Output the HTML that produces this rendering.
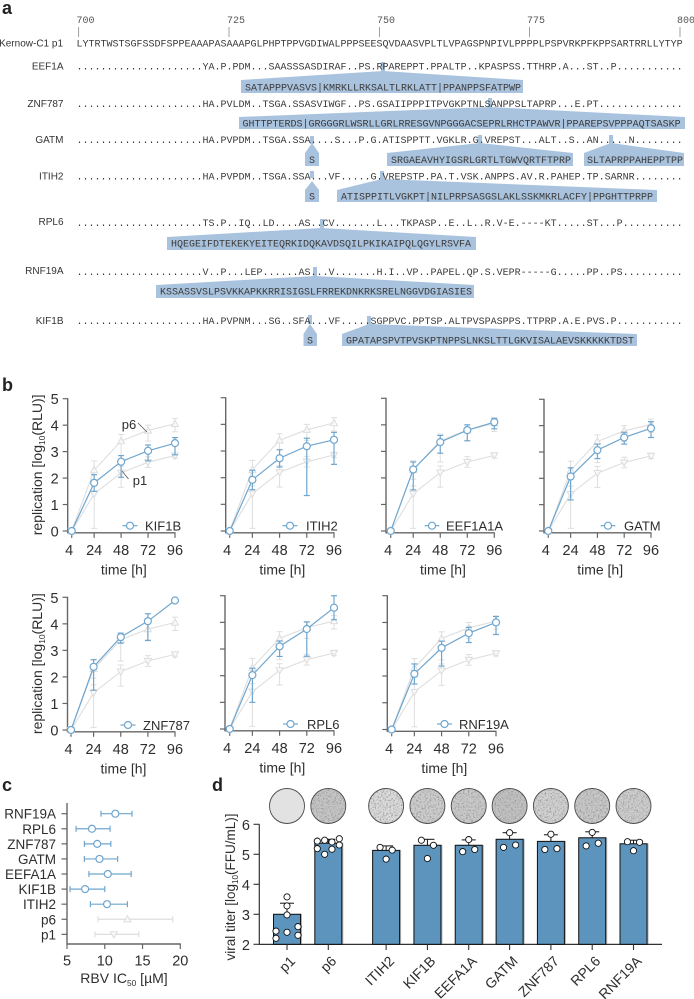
<!DOCTYPE html>
<html lang="en">
<head>
<meta charset="utf-8">
<title>Figure</title>
<style>
html,body{margin:0;padding:0;background:#fff;}
body{width:694px;height:999px;overflow:hidden;}
svg{display:block;filter:blur(0.35px);}
text{font-family:"Liberation Sans",Arial,sans-serif;fill:#2e2e2e;}
.seq{font-family:"Liberation Mono",monospace;font-size:10px;fill:#3a3a3a;white-space:pre;}
.num{font-family:"Liberation Mono",monospace;font-size:10px;fill:#555;}
.lab{font-size:10px;text-anchor:end;fill:#333;}
.band{fill:#a9c3de;}
.panel{font-size:18px;font-weight:bold;fill:#222;}
</style>
</head>
<body>
<svg id="fig" xmlns="http://www.w3.org/2000/svg" width="694" height="999" viewBox="0 0 694 999">
<defs>
<filter id="speckle" x="0" y="0" width="100%" height="100%">
<feTurbulence type="fractalNoise" baseFrequency="0.6" numOctaves="2" seed="4" result="n"/>
<feColorMatrix in="n" type="matrix" values="0 0 0 0 0.3  0 0 0 0 0.3  0 0 0 0 0.3  1.9 1.9 0 0 -1.75" result="d"/>
<feComposite in="d" in2="SourceGraphic" operator="in" result="c"/>
<feMerge><feMergeNode in="SourceGraphic"/><feMergeNode in="c"/></feMerge>
</filter>
</defs>

<g>
<text class="panel" x="2" y="14">a</text>

<g stroke="#777" stroke-width="0.7">
<line x1="78.7" x2="78.7" y1="27" y2="37"/><line x1="229" x2="229" y1="27" y2="37"/><line x1="379.5" x2="379.5" y1="27" y2="37"/><line x1="529.5" x2="529.5" y1="27" y2="37"/><line x1="680" x2="680" y1="27" y2="37"/>
</g>
<text class="num" x="76.5" y="23">700</text>
<text class="num" x="227" y="23">725</text>
<text class="num" x="377" y="23">750</text>
<text class="num" x="527" y="23">775</text>
<text class="num" x="677" y="23">800</text>

<g class="band">
<rect x="381" y="62" width="4" height="10"/><polygon points="241,80 383,71 523,80 523,93 241,93"/>
<rect x="488" y="98" width="4" height="10"/><polygon points="239,117 490,107 685,117 685,129 239,129"/>
<rect x="310" y="136" width="4" height="8"/><polygon points="305,153 312,143 319,153 319,166 305,166"/>
<rect x="478" y="135" width="4" height="9"/><polygon points="387,153 480,143 573,153 573,166 387,166"/>
<rect x="609" y="135" width="4" height="9"/><polygon points="584,153 611,143 684,153 684,166 584,166"/>
<rect x="310" y="171" width="4" height="7"/><polygon points="305,190 312,181 319,190 319,202 305,202"/>
<rect x="380" y="171" width="4" height="9"/><polygon points="337,190 382,179 657,190 657,202 337,202"/>
<rect x="320" y="219" width="4" height="10"/><polygon points="167,237 322,228 476,237 476,250 167,250"/>
<rect x="313" y="267" width="4" height="10"/><polygon points="156,285 315,276 474,285 474,298 156,298"/>
<rect x="308" y="315" width="4" height="9"/><polygon points="303.5,334 310,324 317,334 317,346 303.5,346"/>
<rect x="367" y="316" width="4" height="9"/><polygon points="342,334 369,324 637,334 637,346 342,346"/>
</g>

<text class="lab" x="63" y="46.5">Kernow-C1 p1</text>
<text class="seq" x="76.5" y="46.5">LYTRTWSTSGFSSDFSPPEAAAPASAAAPGLPHPTPPVGDIWALPPPSEESQVDAASVPLTLVPAGSPNPIVLPPPPLPSPVRKPFKPPSARTRRLLYTYP</text>

<text class="lab" x="63.5" y="69.5">EEF1A</text>
<text class="seq" x="76.5" y="69.5">.....................YA.P.PDM...SAASSSASDIRAF..PS.RPAREPPT.PPALTP..KPASPSS.TTHRP.A...ST..P...........</text>
<text class="seq" x="245" y="90.5">SATAPPPVASVS|KMRKLLRKSALTLRKLATT|PPANPPSFATPWP</text>

<text class="lab" x="63.5" y="107">ZNF787</text>
<text class="seq" x="76.5" y="107">.....................HA.PVLDM..TSGA.SSASVIWGF..PS.GSAIIPPPITPVGKPTNLSANPPSLTAPRP...E.PT..............</text>
<text class="seq" x="242.5" y="126.5">GHTTPTERDS|GRGGGRLWSRLLGRLRRESGVNPGGGACSEPRLRHCTPAWVR|PPAREPSVPPPAQTSASKP</text>

<text class="lab" x="63.5" y="143">GATM</text>
<text class="seq" x="76.5" y="143">.....................HA.PVPDM..TSGA.SSA....S...P.G.ATISPPTT.VGKLR.G.VREPST...ALT..S..AN.....N........</text>
<text class="seq" x="309" y="163">S</text>
<text class="seq" x="391" y="163">SRGAEAVHYIGSRLGRTLTGWVQRTFTPRP</text>
<text class="seq" x="587" y="163">SLTAPRPPAHEPPTPP</text>

<text class="lab" x="63.5" y="179.5">ITIH2</text>
<text class="seq" x="76.5" y="179.5">.....................HA.PVPDM..TSGA.SSA...VF.....G.VREPSTP.PA.T.VSK.ANPPS.AV.R.PAHEP.TP.SARNR........</text>
<text class="seq" x="309" y="199.5">S</text>
<text class="seq" x="341" y="199.5">ATISPPITLVGKPT|NILPRPSASGSLAKLSSKMKRLACFY|PPGHTTPRPP</text>

<text class="lab" x="63.5" y="225">RPL6</text>
<text class="seq" x="76.5" y="226">.....................TS.P..IQ..LD....AS..CV.......L...TKPASP..E..L..R.V-E.----KT.....ST...P..........</text>
<text class="seq" x="171" y="246.5">HQEGEIFDTEKEKYEITEQRKIDQKAVDSQILPKIKAIPQLQGYLRSVFA</text>

<text class="lab" x="63.5" y="274">RNF19A</text>
<text class="seq" x="76.5" y="275">.....................V..P...LEP......AS...V.......H.I..VP..PAPEL.QP.S.VEPR-----G.....PP..PS..........</text>
<text class="seq" x="160" y="294.5">KSSASSVSLPSVKKAPKKRRISIGSLFRREKDNKRKSRELNGGVDGIASIES</text>

<text class="lab" x="63.5" y="324">KIF1B</text>
<text class="seq" x="76.5" y="324">.....................HA.PVPNM...SG..SFA...VF.....SGPPVC.PPTSP.ALTPVSPASPPS.TTPRP.A.E.PVS.P...........</text>
<text class="seq" x="307" y="343.5">S</text>
<text class="seq" x="346" y="343.5">GPATAPSPVTPVSKPTNPPSLNKSLTTLGKVISALAEVSKKKKKTDST</text>
</g>

<text class="panel" x="2" y="391">b</text>
<text class="panel" x="2" y="791">c</text>
<text class="panel" x="212" y="791">d</text>

<g id="panelB"></g>
<g id="panelC"></g>
<g id="panelD"></g>
</svg>

<script>
// ---- panel b data ----
const hours = [4, 24, 48, 72, 96];
const replicationTicks = [0, 1, 2, 3, 4, 5];
const p6Mean = [0, 2.3, 3.4, 3.8, 4.05];
const p6Low = [0, 1.95, 2.6, 3.4, 3.75];
const p6High = [0, 2.65, 3.65, 4.0, 4.25];
const p1Mean = [0, 1.4, 2.2, 2.6, 2.85];
const p1Low = [0, 0.1, 1.65, 2.4, 2.75];
const p1High = [0, 1.7, 2.45, 2.8, 2.92];
const kif1bMean = [0, 1.82, 2.62, 3.03, 3.32];
const kif1bLow = [0, 1.5, 2.03, 2.65, 2.88];
const kif1bHigh = [0, 2.13, 2.85, 3.25, 3.53];
const itih2Mean = [0, 1.92, 2.73, 3.18, 3.42];
const itih2Low = [0, 1.55, 2.4, 1.33, 2.5];
const itih2High = [0, 2.28, 3.05, 3.48, 3.7];
const eef1a1aMean = [0, 2.32, 3.35, 3.8, 4.1];
const eef1a1aLow = [0, 1.55, 2.93, 3.4, 3.85];
const eef1a1aHigh = [0, 2.6, 3.6, 4.0, 4.25];
const gatmMean = [0, 2.07, 3.07, 3.55, 3.9];
const gatmLow = [0, 1.18, 2.75, 3.3, 3.55];
const gatmHigh = [0, 2.4, 3.3, 3.75, 4.15];
const znf787Mean = [0, 2.38, 3.5, 4.1, 4.88];
const znf787Low = [0, 1.5, 3.27, 3.37, 4.85];
const znf787High = [0, 2.65, 3.65, 4.38, 4.92];
const rpl6Mean = [0, 2.02, 3.1, 3.75, 4.55];
const rpl6Low = [0, 1.0, 2.72, 2.73, 4.1];
const rpl6High = [0, 2.28, 3.3, 4.02, 5.0];
const rnf19aMean = [0, 2.08, 3.05, 3.6, 4.0];
const rnf19aLow = [0, 1.7, 2.37, 3.25, 3.55];
const rnf19aHigh = [0, 2.45, 3.3, 3.82, 4.22];

// ---- panel c data ----
const ic50Names = ['RNF19A', 'RPL6', 'ZNF787', 'GATM', 'EEFA1A', 'KIF1B', 'ITIH2', 'p6', 'p1'];
const ic50Mean = [11.4, 8.3, 9.0, 9.3, 10.4, 7.4, 10.3, 13.0, 11.2];
const ic50Low = [9.5, 6.2, 7.3, 7.3, 7.9, 5.4, 8.1, 9.1, 8.7];
const ic50High = [13.6, 10.7, 10.8, 11.7, 13.5, 10.0, 13.0, 19.0, 14.5];
const ic50Ticks = [5, 10, 15, 20];

// ---- panel d data ----
const titerNames = ['p1', 'p6', 'ITIH2', 'KIF1B', 'EEFA1A', 'GATM', 'ZNF787', 'RPL6', 'RNF19A'];
const titerMean = [3.0, 5.37, 5.13, 5.3, 5.3, 5.5, 5.43, 5.55, 5.35];
const titerUpper = [3.37, 5.5, 5.28, 5.5, 5.48, 5.72, 5.65, 5.75, 5.47];
const titerTicks = [2, 3, 4, 5, 6];
const titerP1Points = [3.58, 3.28, 2.98, 2.44, 2.4, 2.59, 2.3, 2.2];
const titerP6Points = [5.44, 5.47, 5.41, 5.52, 5.19, 5.0, 5.17, 5.31];
const titerItih2Points = [5.23, 5.14, 4.84];
const titerKif1bPoints = [5.47, 5.3, 4.86];
const titerEefa1aPoints = [5.49, 5.09, 5.16];
const titerGatmPoints = [5.72, 5.23, 5.31];
const titerZnf787Points = [5.67, 5.16, 5.19];
const titerRpl6Points = [5.73, 5.28, 5.37];
const titerRnf19aPoints = [5.42, 5.4, 5.12];

const SVGNS = 'http://www.w3.org/2000/svg';
const BLUE = '#6fa6cf', GREY = '#dedede', AXIS = '#666';

function mk(parent, tag, attrs, name) {
  const el = document.createElementNS(SVGNS, tag);
  for (const k in attrs) el.setAttribute(k, attrs[k]);
  
  
  parent.appendChild(el);
  return el;
}
function label(parent, x, y, str, size, anchor, name, transform) {
  const attrs = { x: x, y: y, 'font-size': size, 'text-anchor': anchor };
  if (transform) attrs.transform = transform;
  const t = mk(parent, 'text', attrs, name);
  t.textContent = str;
  return t;
}
function subLabel(parent, x, y, a, sub, b, size, name, transform) {
  const attrs = { x: x, y: y, 'font-size': size, 'text-anchor': 'middle' };
  if (transform) attrs.transform = transform;
  const t = mk(parent, 'text', attrs, name);
  const s1 = document.createElementNS(SVGNS, 'tspan');
  s1.textContent = a;
  const s2 = document.createElementNS(SVGNS, 'tspan');
  s2.setAttribute('font-size', size * 0.6);
  s2.setAttribute('dy', 3);
  s2.textContent = sub;
  const s3 = document.createElementNS(SVGNS, 'tspan');
  s3.setAttribute('dy', -3);
  s3.textContent = b;
  t.appendChild(s1); t.appendChild(s2); t.appendChild(s3);
  return t;
}
function line(parent, x1, y1, x2, y2, color, w, name) {
  return mk(parent, 'line', { x1: x1, y1: y1, x2: x2, y2: y2, stroke: color, 'stroke-width': w }, name);
}
function errorBar(parent, x, lo, hi, color, w, name) {
  const g = mk(parent, 'g', {}, name);
  line(g, x, lo, x, hi, color, w, 'error-stem');
  line(g, x - 3, lo, x + 3, lo, color, w, 'error-cap-low');
  line(g, x - 3, hi, x + 3, hi, color, w, 'error-cap-high');
}
function triangle(parent, x, y, up, name) {
  const d = up ? -1 : 1;
  const pts = [[x - 3.4, y - d * 2.6], [x + 3.4, y - d * 2.6], [x, y + d * 3.6]].map(function (p) { return p.join(','); }).join(' ');
  return mk(parent, 'polygon', { points: pts, fill: '#fff', 'fill-opacity': 0.7, stroke: GREY, 'stroke-width': 1.1 }, name);
}

// ---- panel b ----
const lineCharts = [
  { name: 'KIF1B', mean: kif1bMean, low: kif1bLow, high: kif1bHigh, ax: 67.7, x4: 71.7, x96: 175, y0: 531, y5: 398.7, lx: 130, tx: 145, ly: 525.7, row: 0, first: true },
  { name: 'ITIH2', mean: itih2Mean, low: itih2Low, high: itih2High, ax: 225.7, x4: 229.7, x96: 334, y0: 531, y5: 397.7, lx: 290, tx: 306, ly: 525.7, row: 0 },
  { name: 'EEF1A1A', mean: eef1a1aMean, low: eef1a1aLow, high: eef1a1aHigh, ax: 386, x4: 390.7, x96: 494.3, y0: 531, y5: 398.3, lx: 432, tx: 446, ly: 525.7, row: 0 },
  { name: 'GATM', mean: gatmMean, low: gatmLow, high: gatmHigh, ax: 544, x4: 548.3, x96: 651, y0: 531, y5: 399.3, lx: 608, tx: 624, ly: 525.7, row: 0 },
  { name: 'ZNF787', mean: znf787Mean, low: znf787Low, high: znf787High, ax: 67.5, x4: 71, x96: 175, y0: 730, y5: 597.3, lx: 128, tx: 143, ly: 725, row: 1, first: true },
  { name: 'RPL6', mean: rpl6Mean, low: rpl6Low, high: rpl6High, ax: 225, x4: 229.7, x96: 334, y0: 729, y5: 595.7, lx: 290.5, tx: 307, ly: 724, row: 1 },
  { name: 'RNF19A', mean: rnf19aMean, low: rnf19aLow, high: rnf19aHigh, ax: 387.3, x4: 391.7, x96: 496, y0: 729.5, y5: 595.7, lx: 444.5, tx: 459, ly: 724, row: 1 }
];

const panelB = document.getElementById('panelB');
lineCharts.forEach(function (c) {
  const key = c.name.toLowerCase();
  const g = mk(panelB, 'g', {}, 'chart-' + key);
  const sx = function (h) { return c.x4 + (h - 4) * (c.x96 - c.x4) / 92; };
  const sy = function (v) { return c.y0 + v * (c.y5 - c.y0) / 5; };
  const axY = c.y0 + 1.8;

  // axes
  line(g, c.ax, c.y5 - 0.5, c.ax, axY + 0.6, AXIS, 1.4, 'y-axis');
  line(g, c.ax, axY, c.x96 + 0.5, axY, AXIS, 1.4, 'x-axis');
  replicationTicks.forEach(function (v) {
    line(g, c.ax - 5, sy(v), c.ax, sy(v), AXIS, 1.2, 'y-tick');
    if (c.first) label(g, c.ax - 9, sy(v) + 5.5, String(v), 14.5, 'end', 'y-tick-label');
  });
  hours.forEach(function (h) {
    line(g, sx(h), axY, sx(h), axY + 5, AXIS, 1.2, 'x-tick');
    label(g, h === 4 ? sx(h) - 2.5 : sx(h), c.y0 + 24, String(h), 14.5, 'middle', 'x-tick-label');
  });
  label(g, (c.x4 + c.x96) / 2 + 0.5, c.y0 + 43.5, 'time [h]', 14, 'middle', 'x-axis-title');
  if (c.first) {
    const cy = (c.y0 + c.y5) / 2;
    subLabel(g, 42, cy, 'replication [log', '10', '(RLU)]', 14, 'y-axis-title', 'rotate(-90 42 ' + cy + ')');
  }

  // reference series p6 and p1
  [[p6Mean, p6Low, p6High, true, 'p6'], [p1Mean, p1Low, p1High, false, 'p1']].forEach(function (s) {
    const sg = mk(g, 'g', {}, 'series-' + s[4]);
    hours.forEach(function (h, i) {
      if (i > 0) errorBar(sg, sx(h), sy(s[1][i]), sy(s[2][i]), GREY, 1, 'error-bar-' + s[4]);
    });
    mk(sg, 'polyline', { points: hours.map(function (h, i) { return sx(h) + ',' + sy(s[0][i]); }).join(' '), fill: 'none', stroke: GREY, 'stroke-width': 1.1 }, 'line-' + s[4]);
    hours.forEach(function (h, i) { triangle(sg, sx(h), sy(s[0][i]), s[3], 'point-' + s[4]); });
  });

  // gene series
  const bg = mk(g, 'g', {}, 'series-' + key);
  hours.forEach(function (h, i) {
    if (i > 0) errorBar(bg, sx(h), sy(c.low[i]), sy(c.high[i]), BLUE, 1.2, 'error-bar-' + key);
  });
  mk(bg, 'polyline', { points: hours.map(function (h, i) { return sx(h) + ',' + sy(c.mean[i]); }).join(' '), fill: 'none', stroke: BLUE, 'stroke-width': 1.2 }, 'line-' + key);
  hours.forEach(function (h, i) {
    mk(bg, 'circle', { cx: sx(h), cy: sy(c.mean[i]), r: 3.5, fill: '#fff', stroke: BLUE, 'stroke-width': 1.2 }, 'point-' + key);
  });

  // legend
  const lg = mk(g, 'g', {}, 'legend-' + key);
  line(lg, c.lx - 7.5, c.ly, c.lx + 7.5, c.ly, BLUE, 1.2, 'legend-line');
  mk(lg, 'circle', { cx: c.lx, cy: c.ly, r: 3.5, fill: '#fff', stroke: BLUE, 'stroke-width': 1.2 }, 'legend-marker');
  label(lg, c.tx, c.ly + 5, c.name, 13, 'start', 'legend-label');
});

// annotations p6 / p1 on the first chart
label(panelB, 129, 429, 'p6', 13, 'middle', 'annotation-p6');
line(panelB, 138, 423, 147, 432, '#555', 0.8, 'annotation-p6-leader');
label(panelB, 140, 485, 'p1', 13, 'middle', 'annotation-p1');
line(panelB, 128.5, 479, 122, 471, '#555', 0.8, 'annotation-p1-leader');

// ---- panel c ----
const panelC = document.getElementById('panelC');
(function () {
  const sx = function (v) { return 67 + (v - 5) * (180.3 - 67) / 15; };
  const sy = function (i) { return 813.7 + i * 15.08; };
  line(panelC, 67, 803, 67, 944.6, AXIS, 1.4, 'y-axis');
  line(panelC, 67, 944, 180.8, 944, AXIS, 1.4, 'x-axis');
  ic50Ticks.forEach(function (v) {
    line(panelC, sx(v), 944, sx(v), 949, AXIS, 1.2, 'x-tick');
    label(panelC, sx(v), 965.5, String(v), 14.5, 'middle', 'x-tick-label');
  });
  ic50Names.forEach(function (n, i) {
    const y = sy(i);
    const ref = n === 'p6' || n === 'p1';
    const col = ref ? GREY : BLUE;
    line(panelC, 61.5, y, 67, y, AXIS, 1.2, 'y-tick');
    label(panelC, 56, y + 5, n, 13.5, 'end', 'y-tick-label');
    const g = mk(panelC, 'g', {}, 'ic50-row-' + n.toLowerCase());
    line(g, sx(ic50Low[i]), y, sx(ic50High[i]), y, col, 1.2, 'ic50-range');
    line(g, sx(ic50Low[i]), y - 3, sx(ic50Low[i]), y + 3, col, 1.2, 'ic50-cap-low');
    line(g, sx(ic50High[i]), y - 3, sx(ic50High[i]), y + 3, col, 1.2, 'ic50-cap-high');
    if (n === 'p6') triangle(g, sx(ic50Mean[i]), y, true, 'ic50-point');
    else if (n === 'p1') triangle(g, sx(ic50Mean[i]), y, false, 'ic50-point');
    else mk(g, 'circle', { cx: sx(ic50Mean[i]), cy: y, r: 3.5, fill: '#fff', stroke: BLUE, 'stroke-width': 1.2 }, 'ic50-point');
  });
  subLabel(panelC, 124, 983, 'RBV IC', '50', ' [µM]', 14, 'x-axis-title');
})();

// ---- panel d ----
const panelD = document.getElementById('panelD');
(function () {
  const pointSets = [titerP1Points, titerP6Points, titerItih2Points, titerKif1bPoints, titerEefa1aPoints, titerGatmPoints, titerZnf787Points, titerRpl6Points, titerRnf19aPoints];
  // horizontal swarm slots (fraction of half a bar) for each dot
  const jitterP1 = [0, 0, 0, -1, 0, 1, 1, -1];
  const jitterP6 = [-1, -0.33, 0.33, 1, -1, -0.33, 0.33, 1];
  const jitterSets = [jitterP1, jitterP6, [-0.55, 0.55, 0], [-0.55, 0.55, 0], [0, -0.55, 0.55], [0, -0.55, 0.55], [0, -0.55, 0.55], [0, -0.55, 0.55], [-0.55, 0.55, 0]];
  const wellFills = ['#e2e2e2', '#c6c6c6', '#dcdcdc', '#cdcdcd', '#cacaca', '#c2c2c2', '#d2d2d2', '#c8c8c8', '#cecece'];
  const slots = [0, 1, 2.4, 3.4, 4.4, 5.39, 6.39, 7.39, 8.39];
  const sx = function (i) { return 287 + slots[i] * 41.3; };
  const sy = function (v) { return 944.3 - (v - 2) * 30; };

  line(panelD, 259.3, sy(6), 259.3, 945, '#333', 1.2, 'y-axis');
  line(panelD, 259.3, 944.4, 662, 944.4, '#333', 1.2, 'x-axis');
  titerTicks.forEach(function (v) {
    line(panelD, 253.5, sy(v), 259.3, sy(v), '#333', 1.1, 'y-tick');
    label(panelD, 250, sy(v) + 5.5, String(v), 14.5, 'end', 'y-tick-label');
  });
  subLabel(panelD, 235, 887, 'viral titer [log', '10', '(FFU/mL)]', 13.5, 'y-axis-title', 'rotate(-90 235 887)');

  titerNames.forEach(function (n, i) {
    const key = n.toLowerCase();
    const cx = sx(i);
    const g = mk(panelD, 'g', {}, 'bar-group-' + key);

    // plaque well image
    const well = mk(g, 'circle', { cx: cx, cy: 806, r: 17.3, fill: wellFills[i] }, 'plaque-well-' + key);
    if (i > 0) well.setAttribute('filter', 'url(#speckle)');
    mk(g, 'circle', { cx: cx, cy: 806, r: 17.5, fill: 'none', stroke: '#4a4a4a', 'stroke-width': 0.9 }, 'plaque-rim-' + key);

    mk(g, 'rect', { x: cx - 13, y: sy(titerMean[i]) - 0.5, width: 28, height: 944 - sy(titerMean[i]), fill: '#b0b0b0' }, 'bar-shadow-' + key);
    line(g, cx, sy(titerMean[i]), cx, sy(titerUpper[i]), '#111', 1, 'error-stem-' + key);
    line(g, cx - 7, sy(titerUpper[i]), cx + 7, sy(titerUpper[i]), '#111', 1, 'error-cap-' + key);
    mk(g, 'rect', { x: cx - 13.5, y: sy(titerMean[i]), width: 27, height: 944.3 - sy(titerMean[i]), fill: '#5c94bd', stroke: '#111', 'stroke-width': 1 }, 'bar-' + key);

    pointSets[i].forEach(function (v, j) {
      const off = jitterSets[i][j] * 11;
      mk(g, 'circle', { cx: cx + off, cy: sy(v), r: 3.1, fill: '#fff', stroke: '#111', 'stroke-width': 0.9 }, 'point-' + key);
    });

    line(g, cx, 944.4, cx, 950, '#333', 1.1, 'x-tick');
    const lx = cx + 9, ly = 962;
    label(g, lx, ly, n, 14, 'end', 'x-tick-label', 'rotate(-45 ' + lx + ' ' + ly + ')');
  });
})();
</script>
</body>
</html>
